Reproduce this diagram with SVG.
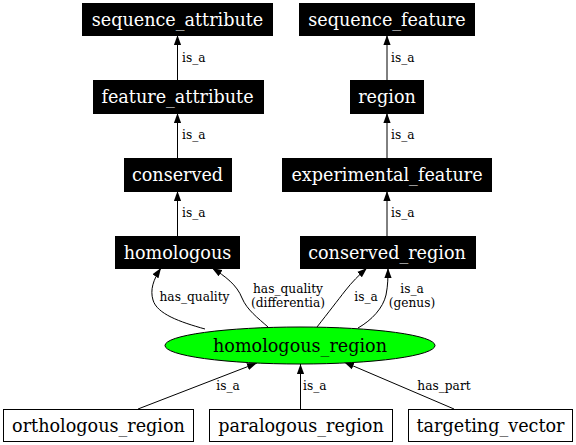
<svg xmlns="http://www.w3.org/2000/svg" width="576" height="445" viewBox="0 0 576 445">
<style>
.bn rect{fill:#000;stroke:#000;stroke-width:1}
.bn text{fill:#fff}
.wn rect{fill:#fff;stroke:#000;stroke-width:1}
.nt{font-family:"DejaVu Serif",serif;font-size:17.6px;text-anchor:middle}
.el{font-family:"DejaVu Serif",serif;font-size:12.2px;fill:#000}
.e{fill:none;stroke:#000;stroke-width:1;marker-end:url(#ah)}
</style>
<defs>
<marker id="ah" markerUnits="userSpaceOnUse" markerWidth="10" markerHeight="8" refX="10" refY="4" orient="auto" viewBox="0 0 10 8">
<path d="M0,0.4 L10,4 L0,7.6 z" fill="#000"/>
</marker>
</defs>
<rect width="576" height="445" fill="#fff"/>
<g id="connectors">
<path class="e" d="M177.5,80 L177.5,35"/>
<path class="e" d="M387,80 L387,35"/>
<path class="e" d="M177.5,158 L177.5,113"/>
<path class="e" d="M387,158 L387,113"/>
<path class="e" d="M177.5,236 L177.5,191"/>
<path class="e" d="M387,236 L387,191"/>
<path class="e" d="M205,329 C180,322 157,314 153,300 C150,290 153,280 161,268"/>
<path class="e" d="M268,327 C258,318 247,310 242,298 C237,285 225,276 212,268"/>
<path class="e" d="M317,327 C328,313 338,300 345,291 C352,282 359,275 367,268"/>
<path class="e" d="M358,328 C372,320 383,308 386,295 C388,285 388,277 388,268"/>
<path class="e" d="M138,409 L257,363"/>
<path class="e" d="M300.5,409 L300.5,364"/>
<path class="e" d="M454,409 L344,362"/>
<text class="el" x="182" y="62">is_a</text>
<text class="el" x="391" y="62">is_a</text>
<text class="el" x="182" y="139">is_a</text>
<text class="el" x="391" y="139">is_a</text>
<text class="el" x="182" y="217">is_a</text>
<text class="el" x="391" y="217">is_a</text>
<text class="el" x="194.5" y="301" text-anchor="middle">has_quality</text>
<text class="el" x="288" y="293" text-anchor="middle">has_quality</text>
<text class="el" x="288" y="307.3" text-anchor="middle">(differentia)</text>
<text class="el" x="366" y="301" text-anchor="middle">is_a</text>
<text class="el" x="412" y="293" text-anchor="middle">is_a</text>
<text class="el" x="412" y="307.3" text-anchor="middle">(genus)</text>
<text class="el" x="228" y="390" text-anchor="middle">is_a</text>
<text class="el" x="303" y="390">is_a</text>
<text class="el" x="444" y="390" text-anchor="middle">has_part</text>
</g>
<g id="sequence_attribute" class="bn"><rect x="82.5" y="3.5" width="190" height="32"/><text class="nt" x="177.5" y="25.5">sequence_attribute</text></g>
<g id="sequence_feature" class="bn"><rect x="299.5" y="3.5" width="175" height="32"/><text class="nt" x="387" y="25.5">sequence_feature</text></g>
<g id="feature_attribute" class="bn"><rect x="93.5" y="80.5" width="170" height="33"/><text class="nt" x="177.5" y="102.5">feature_attribute</text></g>
<g id="region" class="bn"><rect x="350.5" y="80.5" width="73" height="33"/><text class="nt" x="387" y="102.5">region</text></g>
<g id="conserved" class="bn"><rect x="124.5" y="158.5" width="107" height="33"/><text class="nt" x="177.5" y="180.5">conserved</text></g>
<g id="experimental_feature" class="bn"><rect x="282.5" y="158.5" width="209" height="33"/><text class="nt" x="387" y="180.5">experimental_feature</text></g>
<g id="homologous" class="bn"><rect x="115.5" y="236.5" width="124" height="32"/><text class="nt" x="177.5" y="258.5">homologous</text></g>
<g id="conserved_region" class="bn"><rect x="300.5" y="236.5" width="175" height="32"/><text class="nt" x="387" y="258.5">conserved_region</text></g>
<g id="homologous_region"><ellipse cx="300" cy="345.5" rx="135" ry="18.5" fill="#00ff00" stroke="#000"/><text class="nt" x="300" y="351.5">homologous_region</text></g>
<g id="orthologous_region" class="wn"><rect x="3.5" y="409.5" width="190" height="32"/><text class="nt" x="98.5" y="431.5">orthologous_region</text></g>
<g id="paralogous_region" class="wn"><rect x="209.5" y="409.5" width="183" height="32"/><text class="nt" x="301" y="431.5">paralogous_region</text></g>
<g id="targeting_vector" class="wn"><rect x="408.5" y="409.5" width="164" height="32"/><text class="nt" x="490.5" y="431.5">targeting_vector</text></g>
</svg>
